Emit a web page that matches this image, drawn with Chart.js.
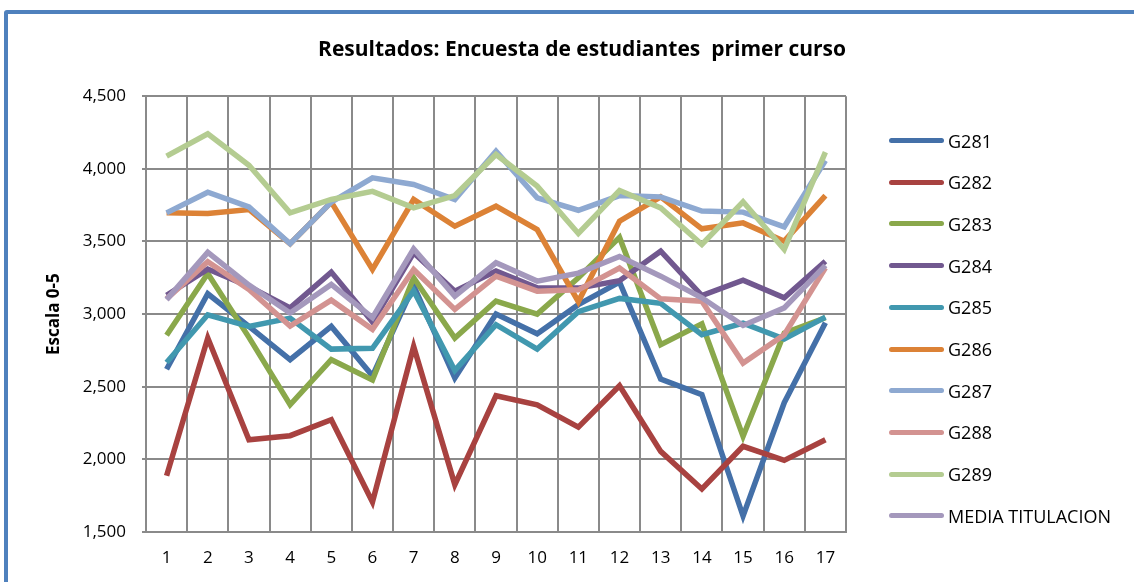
<!DOCTYPE html>
<html>
<head>
<meta charset="utf-8">
<script src="https://cdn.jsdelivr.net/npm/chart.js@4/dist/chart.umd.min.js"></script>
<style>
  html, body { margin: 0; padding: 0; background: #fff; }
  body { width: 1134px; height: 582px; position: relative; overflow: hidden; font-family: "Open Sans", sans-serif; }
  #frame { position: absolute; left: 4px; top: 10px; width: 1200px; height: 700px; border: 4px solid #4F81BD; border-radius: 3px; box-sizing: border-box; }
  #chartBox { position: absolute; left: 0; top: 0; width: 1134px; height: 582px; }
  #legend { position: absolute; left: 889px; top: 0; }
  .legItem { position: absolute; left: 0; display: flex; align-items: center; white-space: nowrap; font-size: 18px; color: #000; }
  .legLine { width: 55px; height: 5px; border-radius: 3px; margin-right: 4px; }
</style>
</head>
<body>
<div id="frame"></div>
<div id="chartBox"><canvas id="chartEncuesta" width="1134" height="582"></canvas></div>
<div id="legend"></div>
<script>
  const categorias = ["1","2","3","4","5","6","7","8","9","10","11","12","13","14","15","16","17"];
  const ticksY = [1500, 2000, 2500, 3000, 3500, 4000, 4500];

  const g281 = [2620, 3140, 2915, 2686, 2915, 2575, 3195, 2560, 3000, 2865, 3065, 3220, 2553, 2445, 1610, 2390, 2940];
  const g282 = [1887, 2835, 2135, 2163, 2273, 1706, 2777, 1826, 2438, 2376, 2222, 2507, 2055, 1796, 2090, 1993, 2135];
  const g283 = [2855, 3280, 2840, 2376, 2686, 2546, 3250, 2835, 3090, 3000, 3250, 3528, 2789, 2933, 2158, 2869, 2975];
  const g284 = [3130, 3310, 3190, 3043, 3289, 2945, 3422, 3158, 3296, 3181, 3179, 3230, 3433, 3128, 3234, 3112, 3364];
  const g285 = [2667, 2995, 2915, 2972, 2759, 2765, 3160, 2612, 2927, 2759, 3017, 3108, 3074, 2858, 2938, 2828, 2979];
  const g286 = [3697, 3692, 3720, 3484, 3771, 3307, 3789, 3605, 3743, 3582, 3086, 3640, 3807, 3587, 3628, 3502, 3816];
  const g287 = [3697, 3839, 3738, 3484, 3771, 3938, 3892, 3789, 4121, 3800, 3715, 3816, 3807, 3709, 3702, 3601, 4057];
  const g288 = [3105, 3360, 3170, 2917, 3096, 2895, 3307, 3032, 3261, 3158, 3167, 3317, 3105, 3089, 2663, 2858, 3318];
  const g289 = [4087, 4241, 4025, 3697, 3789, 3845, 3731, 3816, 4099, 3881, 3555, 3851, 3731, 3479, 3773, 3445, 4115];
  const mediaTitulacion = [3100, 3425, 3200, 3008, 3204, 2975, 3449, 3124, 3353, 3227, 3282, 3397, 3261, 3112, 2922, 3043, 3335];

  const series = [
    { name: "G281", data: g281, color: "#4470A8" },
    { name: "G282", data: g282, color: "#A84240" },
    { name: "G283", data: g283, color: "#8AA84B" },
    { name: "G284", data: g284, color: "#71588F" },
    { name: "G285", data: g285, color: "#4198AF" },
    { name: "G286", data: g286, color: "#DC8236" },
    { name: "G287", data: g287, color: "#8EA9D1" },
    { name: "G288", data: g288, color: "#D39391" },
    { name: "G289", data: g289, color: "#B4CC91" },
    { name: "MEDIA TITULACION", data: mediaTitulacion, color: "#A498BC" }
  ];

  const gridColor = "#8A8A8A";

  // later series on top, like the original
  const datasets = series.map((s, i) => ({
    label: s.name,
    data: s.data,
    borderColor: s.color,
    backgroundColor: s.color,
    borderWidth: 5.5,
    pointRadius: 0,
    tension: 0,
    order: series.length - i
  }));

  new Chart(document.getElementById("chartEncuesta"), {
    type: "line",
    data: { labels: categorias, datasets: datasets },
    options: {
      responsive: false,
      animation: false,
      events: [],
      layout: { padding: { left: 0, right: 288, top: 0, bottom: 0 } },
      plugins: {
        legend: { display: false },
        tooltip: { enabled: false },
        title: {
          display: true,
          text: "Resultados: Encuesta de estudiantes  primer curso",
          align: "end",
          color: "#000",
          font: { family: "Open Sans", size: 21, weight: "bold", lineHeight: 1.2 },
          padding: { top: 37, bottom: 34 }
        }
      },
      scales: {
        x: {
          type: "category",
          offset: true,
          grid: { offset: true, color: gridColor, lineWidth: 2, drawTicks: false },
          border: { color: gridColor, width: 2 },
          ticks: { color: "#000", padding: 16, font: { family: "Open Sans", size: 17 } },
          afterFit: s => { s.height = 50; }
        },
        y: {
          min: 1500,
          max: 4500,
          afterBuildTicks: s => { s.ticks = ticksY.map(v => ({ value: v })); },
          grid: { color: gridColor, lineWidth: 2, tickLength: 4 },
          border: { color: gridColor, width: 2 },
          ticks: {
            color: "#000",
            padding: 16,
            font: { family: "Open Sans", size: 17 },
            callback: v => v.toLocaleString("en-US")
          },
          title: {
            display: true,
            text: "Escala 0-5",
            color: "#000",
            font: { family: "Open Sans", size: 17, weight: "bold", lineHeight: 1.2 },
            padding: { top: 44, bottom: 0 }
          },
          afterFit: s => { s.width = 146; }
        }
      }
    }
  });

  const legendBox = document.getElementById("legend");
  series.forEach((s, i) => {
    const item = document.createElement("div");
    item.className = "legItem";
    item.style.top = (141 + i * 41.7 - 12.5) + "px";
    item.innerHTML = `<span class="legLine" style="background:${s.color}"></span><span>${s.name}</span>`;
    legendBox.appendChild(item);
  });
</script>
</body>
</html>
